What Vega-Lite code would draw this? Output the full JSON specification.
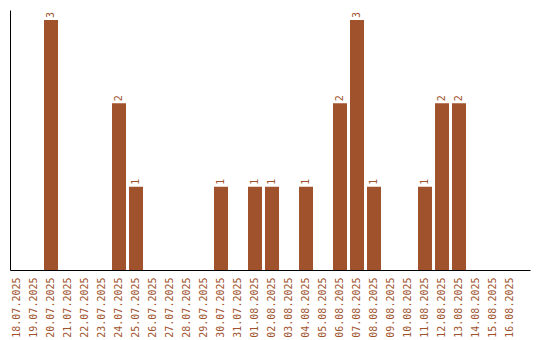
{
  "$schema": "https://vega.github.io/schema/vega-lite/v6.json",
  "width": 520,
  "height": 260,
  "autosize": {"type": "none"},
  "padding": {"left": 10, "top": 10, "right": 10, "bottom": 70},
  "background": "white",
  "config": {"view": {"stroke": null}},
  "data": {
    "values": [
      {"date": "18.07.2025", "count": 0},
      {"date": "19.07.2025", "count": 0},
      {"date": "20.07.2025", "count": 3},
      {"date": "21.07.2025", "count": 0},
      {"date": "22.07.2025", "count": 0},
      {"date": "23.07.2025", "count": 0},
      {"date": "24.07.2025", "count": 2},
      {"date": "25.07.2025", "count": 1},
      {"date": "26.07.2025", "count": 0},
      {"date": "27.07.2025", "count": 0},
      {"date": "28.07.2025", "count": 0},
      {"date": "29.07.2025", "count": 0},
      {"date": "30.07.2025", "count": 1},
      {"date": "31.07.2025", "count": 0},
      {"date": "01.08.2025", "count": 1},
      {"date": "02.08.2025", "count": 1},
      {"date": "03.08.2025", "count": 0},
      {"date": "04.08.2025", "count": 1},
      {"date": "05.08.2025", "count": 0},
      {"date": "06.08.2025", "count": 2},
      {"date": "07.08.2025", "count": 3},
      {"date": "08.08.2025", "count": 1},
      {"date": "09.08.2025", "count": 0},
      {"date": "10.08.2025", "count": 0},
      {"date": "11.08.2025", "count": 1},
      {"date": "12.08.2025", "count": 2},
      {"date": "13.08.2025", "count": 2},
      {"date": "14.08.2025", "count": 0},
      {"date": "15.08.2025", "count": 0},
      {"date": "16.08.2025", "count": 0}
    ]
  },
  "encoding": {
    "x": {
      "field": "date",
      "type": "ordinal",
      "sort": null,
      "scale": {"paddingInner": 0.176, "paddingOuter": 0.382, "align": 0},
      "axis": {
        "title": null,
        "labelAngle": 270,
        "labelAlign": "right",
        "labelBaseline": "middle",
        "labelFont": "DejaVu Sans Mono",
        "labelFontSize": 10,
        "labelColor": "#A0522D",
        "labelPadding": 7,
        "ticks": false,
        "domainColor": "#000000",
        "domainWidth": 1
      }
    },
    "y": {
      "field": "count",
      "type": "quantitative",
      "scale": {"domain": [0, 3.12], "nice": false},
      "axis": {
        "title": null,
        "labels": false,
        "ticks": false,
        "grid": false,
        "domainColor": "#000000",
        "domainWidth": 1
      }
    }
  },
  "layer": [
    {"mark": {"type": "bar", "color": "#A0522D"}},
    {
      "transform": [{"filter": "datum.count > 0"}],
      "mark": {
        "type": "text",
        "angle": 270,
        "align": "left",
        "baseline": "middle",
        "dx": 2,
        "font": "DejaVu Sans Mono",
        "fontSize": 10,
        "color": "#A0522D"
      },
      "encoding": {"text": {"field": "count", "type": "quantitative"}}
    }
  ]
}
